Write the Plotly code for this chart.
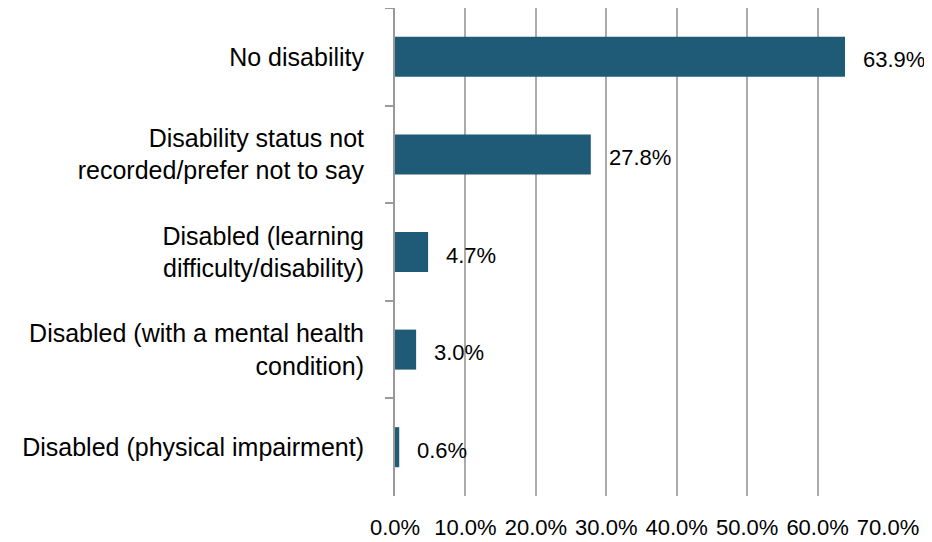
import plotly.graph_objects as go

categories = [
    "No disability",
    "Disability status not<br>recorded/prefer not to say",
    "Disabled (learning<br>difficulty/disability)",
    "Disabled (with a mental health<br>condition)",
    "Disabled (physical impairment)",
]
values = [63.9, 27.8, 4.7, 3.0, 0.6]
x_ticks = [0, 10, 20, 30, 40, 50, 60, 70]
x_tick_labels = ["0.0%", "10.0%", "20.0%", "30.0%", "40.0%", "50.0%", "60.0%", "70.0%"]

FONT = "Liberation Sans"
BAR = "#1f5b76"
GRID = "#ababab"
AXIS = "#999999"

fig = go.Figure(go.Bar(
    x=values, y=categories, orientation="h",
    marker=dict(color=BAR, line=dict(width=0)),
    width=0.41,
    hoverinfo="skip",
))

for v, c in zip(values, categories):
    fig.add_annotation(
        x=v, y=c, xref="x", yref="y", text=f"{v:.1f}%",
        showarrow=False, xanchor="left", xshift=16, yshift=-3,
        font=dict(family=FONT, size=22, color="#000000"),
    )

# the page body adds an 8px offset, so the figure is 8px smaller on each side
fig.update_layout(
    width=924, height=534,
    margin=dict(l=387, r=44, t=0, b=46),
    paper_bgcolor="white", plot_bgcolor="white",
    showlegend=False,
    font=dict(family=FONT, size=22, color="#000000"),
    xaxis=dict(
        range=[0, 70], tickvals=x_ticks, ticktext=x_tick_labels,
        showgrid=True, gridcolor=GRID, gridwidth=2,
        zeroline=False, showline=False, ticks="",
        ticklabelstandoff=16,
        automargin=False,
        tickfont=dict(family=FONT, size=22, color="#000000"),
        fixedrange=True,
    ),
    yaxis=dict(
        autorange="reversed", type="category",
        showgrid=False, zeroline=False,
        showline=True, linecolor=AXIS, linewidth=2,
        ticks="outside", ticklen=8, tickcolor=AXIS, tickwidth=2,
        tickson="boundaries",
        ticklabelstandoff=24,
        automargin=False,
        tickfont=dict(family=FONT, size=25, color="#000000"),
        fixedrange=True,
    ),
)

fig.write_html("out.html")
